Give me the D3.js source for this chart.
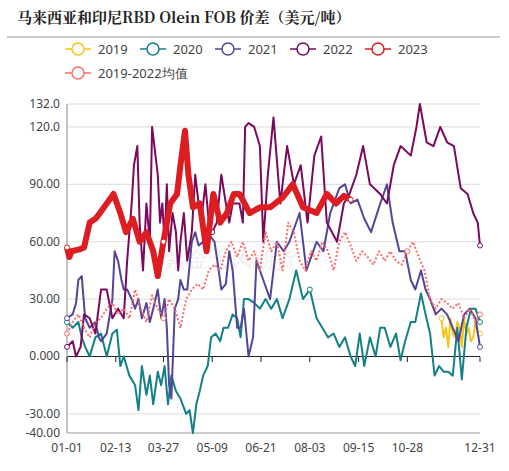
<!DOCTYPE html>
<html><head><meta charset="utf-8">
<script src="https://cdn.jsdelivr.net/npm/d3@7"></script>
<style>body{margin:0;background:#fff}</style></head>
<body><svg id="c" width="509" height="471"></svg>
<script>
const xTickLabels=["01-01","02-13","03-27","05-09","06-21","08-03","09-15","10-28","12-31"];
const xTickDays=[0,43,85,128,171,214,257,300,364];
const yTicks=[-40,-30,0,30,60,90,120,132];
const yTickLabels=["-40.00","-30.00","0.000","30.00","60.00","90.00","120.0","132.0"];
const s2019=[[330,20],[332,10],[334,15],[336,5],[338,20],[340,12],[342,10],[344,18],[346,15],[348,5],[350,20],[352,12],[354,15],[356,8],[358,10],[360,18],[362,12],[364,12]];
const s2020=[[0,18],[5,15],[10,18],[13,10],[16,5],[20,0],[25,10],[30,12],[35,0],[40,12],[44,14],[47,-5],[50,0],[55,-10],[60,-15],[63,-28],[66,-5],[70,-20],[73,-10],[76,-25],[80,-8],[83,-15],[86,-5],[89,-25],[92,-10],[96,-18],[100,-22],[105,-30],[108,-28],[111,-40],[114,-25],[117,-18],[120,-10],[124,-5],[127,10],[131,12],[135,8],[138,15],[142,15],[146,22],[150,20],[153,10],[156,30],[160,30],[165,28],[170,25],[175,30],[180,25],[185,30],[190,20],[196,30],[202,45],[208,30],[214,35],[220,20],[225,15],[230,10],[235,12],[240,5],[245,10],[250,0],[254,-5],[258,12],[262,-5],[267,10],[272,0],[276,15],[280,15],[285,5],[290,12],[294,-2],[298,8],[303,18],[307,18],[312,33],[316,22],[320,12],[324,-10],[328,-5],[332,-8],[336,-8],[340,-10],[344,15],[348,-12],[352,15],[356,25],[360,25],[364,18]];
const s2021=[[0,20],[5,22],[8,28],[10,40],[13,42],[16,20],[20,15],[25,18],[28,10],[30,8],[35,12],[40,30],[42,55],[45,50],[48,40],[50,35],[53,35],[57,30],[60,25],[63,30],[66,20],[70,28],[73,18],[76,25],[80,35],[83,20],[86,30],[88,15],[90,-15],[92,-22],[95,25],[98,30],[100,40],[103,35],[106,35],[110,60],[113,65],[116,58],[120,60],[123,55],[126,63],[130,60],[133,48],[136,35],[140,38],[143,55],[146,45],[150,15],[153,15],[156,25],[160,0],[164,10],[167,50],[173,40],[179,30],[185,60],[191,55],[196,60],[205,75],[211,45],[220,60],[226,55],[232,75],[240,88],[245,90],[250,80],[256,82],[262,72],[268,65],[275,78],[282,90],[287,70],[293,55],[298,55],[303,40],[307,35],[312,45],[316,35],[320,30],[325,22],[330,25],[335,22],[340,15],[345,8],[350,22],[355,25],[360,20],[364,5]];
const s2022=[[0,5],[5,8],[8,0],[12,5],[15,22],[20,20],[25,12],[30,35],[35,35],[40,20],[45,25],[50,20],[53,50],[57,80],[59,100],[62,110],[64,70],[67,45],[70,80],[73,60],[75,120],[78,105],[80,95],[82,70],[84,80],[86,60],[88,90],[90,55],[93,75],[96,65],[98,45],[100,60],[103,75],[106,50],[110,65],[113,95],[116,80],[119,75],[122,90],[125,70],[128,65],[132,70],[136,95],[140,80],[143,70],[146,80],[152,80],[155,70],[157,120],[160,122],[165,120],[170,110],[173,60],[177,95],[182,125],[188,80],[194,110],[200,90],[206,100],[212,70],[218,105],[224,115],[229,70],[238,60],[244,80],[249,85],[255,95],[261,110],[267,90],[276,85],[282,80],[288,100],[294,110],[303,105],[308,120],[311,132],[317,112],[323,110],[329,120],[335,112],[341,110],[347,88],[353,85],[358,75],[362,70],[364,58]];
const s2023=[[0,57],[2,52],[4,55],[11,56],[15,57],[20,70],[25,72],[29,75],[35,80],[41,85],[47,75],[52,65],[58,72],[64,60],[70,65],[76,55],[80,42],[85,60],[91,80],[97,85],[100,100],[104,118],[107,95],[111,78],[117,80],[123,55],[129,85],[135,70],[141,75],[147,85],[152,85],[161,75],[170,78],[179,78],[190,83],[199,90],[208,78],[220,75],[229,85],[237,80],[244,84],[250,82]];
const sAvg=[[0,12],[5,18],[10,22],[15,15],[20,10],[25,18],[30,20],[35,25],[40,28],[45,22],[50,25],[55,20],[60,35],[65,25],[70,18],[75,32],[80,25],[85,20],[90,30],[95,25],[100,15],[105,30],[110,35],[115,38],[120,35],[125,45],[130,48],[135,45],[140,55],[145,60],[150,52],[155,60],[160,50],[165,55],[170,45],[175,65],[180,55],[185,60],[190,45],[195,70],[200,65],[205,50],[210,45],[215,55],[220,50],[225,60],[230,55],[235,45],[240,60],[245,65],[250,58],[255,50],[260,55],[265,52],[270,48],[275,55],[280,50],[285,55],[290,50],[295,48],[300,55],[305,60],[310,52],[315,45],[320,30],[325,25],[330,30],[335,28],[340,25],[345,28],[350,20],[355,25],[360,18],[364,22]];
const names=["2019","2020","2021","2022","2023","2019-2022均值"];
const colors=["#f5c518","#138086","#534598","#7a0a5e","#dd1d21","#ff6b6b"];

const svg=d3.select("#c");
const F="'Noto Sans','Open Sans',sans-serif";
svg.append("text").attr("x",17).attr("y",23).attr("font-family","'Noto Serif CJK SC','Liberation Serif',serif").attr("font-weight","bold").attr("font-size",15).attr("fill","#222").text("马来西亚和印尼RBD Olein FOB 价差（美元/吨）");
svg.append("line").attr("x1",7).attr("x2",500).attr("y1",37).attr("y2",37).attr("stroke","#999");
const x=d3.scaleLinear().domain([0,364]).range([67,480]);
const y=d3.scaleLinear().domain([-40,132]).range([433,104]);
names.forEach((n,i)=>{
  const row=i<5?0:1, col=i<5?i:0;
  const lx=65+col*75, ly=49+row*24;
  const g=svg.append("g");
  g.append("line").attr("x1",lx).attr("x2",lx+26).attr("y1",ly).attr("y2",ly).attr("stroke",colors[i]).attr("stroke-width",1.5);
  g.append("circle").attr("cx",lx+13).attr("cy",ly).attr("r",6).attr("fill","#fff").attr("stroke",colors[i]).attr("stroke-width",1.5);
  g.append("text").attr("x",lx+33).attr("y",ly+5).attr("font-family",F).attr("font-size",13).attr("fill","#444").text(n);
});
yTicks.forEach((t,i)=>{
  svg.append("line").attr("x1",67).attr("x2",480).attr("y1",y(t)).attr("y2",y(t)).attr("stroke",t===0?"#222":"#ddd").attr("stroke-width",1);
  svg.append("text").attr("x",60).attr("y",y(t)+4).attr("text-anchor","end").attr("font-family",F).attr("font-size",12).attr("fill","#444").text(yTickLabels[i]);
});
svg.append("line").attr("x1",67).attr("x2",67).attr("y1",104).attr("y2",433).attr("stroke","#888");
svg.append("line").attr("x1",67).attr("x2",480).attr("y1",433).attr("y2",433).attr("stroke","#aaa");
xTickDays.forEach((d,i)=>{
  svg.append("line").attr("x1",x(d)).attr("x2",x(d)).attr("y1",357).attr("y2",362).attr("stroke","#222");
  svg.append("text").attr("x",x(d)).attr("y",452).attr("text-anchor","middle").attr("font-family",F).attr("font-size",12).attr("fill","#444").text(xTickLabels[i]);
});
svg.append("text").attr("x",230).attr("y",267).attr("text-anchor","middle").attr("font-family",F).attr("font-size",22).attr("fill","#000").attr("opacity",0.06).text("紫金天风期货");
const line=d3.line().x(d=>x(d[0])).y(d=>y(d[1]));
const series=[s2019,s2020,s2021,s2022,sAvg,s2023];
const idx=[0,1,2,3,5,4];
series.forEach((s,k)=>{
  const i=idx[k];
  const p=svg.append("path").datum(s).attr("d",line).attr("fill","none").attr("stroke",colors[i])
    .attr("stroke-width",i===4?6:2).attr("stroke-linejoin","round");
  if(i===5)p.attr("stroke-dasharray","2,2");
  s.filter(d=>xTickDays.includes(d[0])||d===s[0]||d===s[s.length-1]).forEach(d=>{
    svg.append("circle").attr("cx",x(d[0])).attr("cy",y(d[1])).attr("r",2.5).attr("fill","#fff").attr("stroke",colors[i]).attr("stroke-width",1);
  });
});
</script></body></html>
